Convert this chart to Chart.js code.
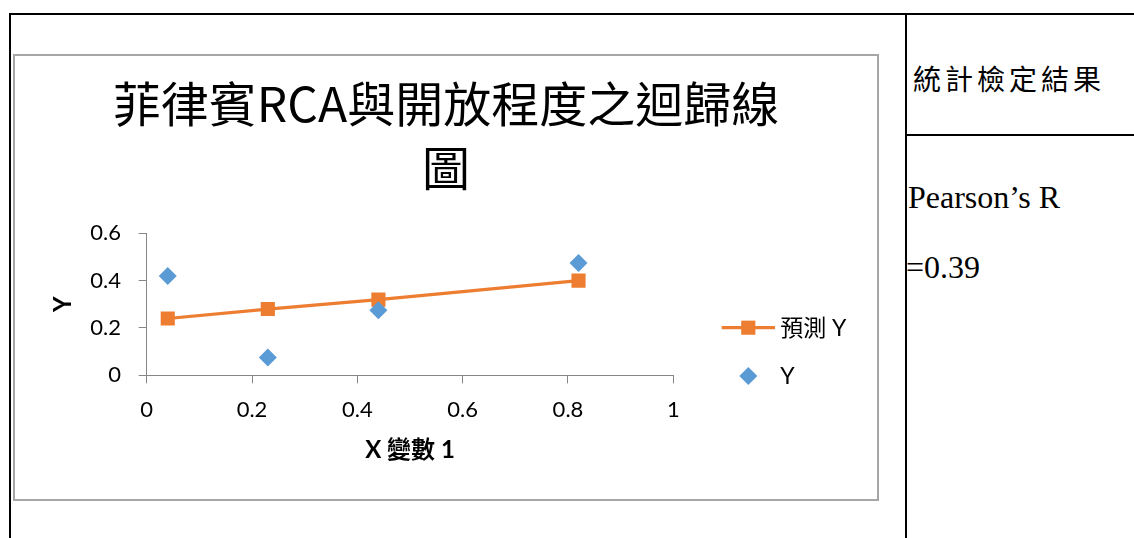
<!DOCTYPE html>
<html lang="zh-Hant">
<head>
<meta charset="utf-8">
<title>菲律賓RCA與開放程度之迴歸線圖</title>
<script src="https://cdn.jsdelivr.net/npm/chart.js@4.4.1/dist/chart.umd.min.js"></script>
<style>
  html, body { margin: 0; padding: 0; background: #fff; }
  body { width: 1134px; height: 538px; position: relative; overflow: hidden; }
  .rule { position: absolute; background: #000; }
  #chartBox {
    position: absolute; left: 13px; top: 54px;
    width: 862px; height: 443px;
    border: 2px solid #a6a6a6; background: #fff;
  }
  #chartBox canvas { display: block; }
  .cell { position: absolute; color: #000; white-space: nowrap; }
  #statHead {
    left: 913px; top: 64px;
    font: 400 28px/28px "Noto Sans CJK TC", sans-serif;
    letter-spacing: 4px;
  }
  .serif { font: 32px/32px "Liberation Serif", "Times New Roman", serif; }
  #pearson { left: 908px; top: 181px; }
  #rValue { left: 906px; top: 251px; }
</style>
</head>
<body>
  <div class="rule" style="left:9px;top:13px;width:1125px;height:2px"></div>
  <div class="rule" style="left:9px;top:13px;width:2px;height:525px"></div>
  <div class="rule" style="left:905px;top:13px;width:2px;height:525px"></div>
  <div class="rule" style="left:905px;top:134px;width:229px;height:2px"></div>

  <div id="chartBox"><canvas id="chart" width="862" height="443"></canvas></div>

  <div class="cell" id="statHead">統計檢定結果</div>
  <div class="cell serif" id="pearson">Pearson’s R</div>
  <div class="cell serif" id="rValue">=0.39</div>

<script>
// X values and the two series
const xValues = [0.04, 0.23, 0.44, 0.82];
const yObserved = [0.42, 0.075, 0.275, 0.475];
const yPredicted = [0.24, 0.28, 0.32, 0.40];

const xTicks = [0, 0.2, 0.4, 0.6, 0.8, 1];
const yTicks = [0, 0.2, 0.4, 0.6];

const titleLines = ['菲律賓RCA與開放程度之迴歸線', '圖'];
const seriesNames = ['預測 Y', 'Y'];
const xTitle = 'X 變數 1';
const yTitle = 'Y';

const ORANGE = '#ED7D31';
const BLUE = '#5B9BD5';
const AXIS = '#868686';
const FONT = 'Lato, "Noto Sans CJK TC", sans-serif';

// legend on the right, drawn next to the plot area
const sideLegend = {
  id: 'sideLegend',
  afterDraw(chart) {
    const { ctx, chartArea } = chart;
    const x0 = chartArea.right + 48.4;
    const rows = [chartArea.bottom - 47.6, chartArea.bottom + 0.7];
    chart.data.datasets.forEach((ds, i) => {
      const y = rows[i];
      const cx = x0 + 26.6;
      ctx.save();
      ctx.fillStyle = ds.backgroundColor;
      if (ds.showLine) {
        ctx.strokeStyle = ds.borderColor;
        ctx.lineWidth = ds.borderWidth;
        ctx.beginPath();
        ctx.moveTo(x0, y);
        ctx.lineTo(x0 + 53.3, y);
        ctx.stroke();
      }
      const r = ds.pointRadius;
      ctx.beginPath();
      if (ds.pointStyle === 'rect') {
        const s = r * Math.SQRT1_2;
        ctx.rect(cx - s, y - s, s * 2, s * 2);
      } else {
        ctx.moveTo(cx - r, y);
        ctx.lineTo(cx, y - r);
        ctx.lineTo(cx + r, y);
        ctx.lineTo(cx, y + r);
        ctx.closePath();
      }
      ctx.fill();
      ctx.fillStyle = '#000';
      ctx.font = '23px ' + FONT;
      ctx.textBaseline = 'middle';
      ctx.textAlign = 'left';
      ctx.fillText(ds.label, x0 + 58.5, y + 1);
      ctx.restore();
    });
  }
};

const fmt = v => String(+v.toFixed(1));

new Chart(document.getElementById('chart'), {
  type: 'scatter',
  data: {
    datasets: [
      {
        label: seriesNames[0],
        data: xValues.map((x, i) => ({ x, y: yPredicted[i] })),
        showLine: true,
        borderColor: ORANGE,
        backgroundColor: ORANGE,
        borderWidth: 3.2,
        pointStyle: 'rect',
        pointRadius: 10,
        pointBorderWidth: 0,
        order: 1
      },
      {
        label: seriesNames[1],
        data: xValues.map((x, i) => ({ x, y: yObserved[i] })),
        borderColor: BLUE,
        backgroundColor: BLUE,
        pointStyle: 'rectRot',
        pointRadius: 9,
        pointBorderWidth: 0,
        order: 0
      }
    ]
  },
  options: {
    responsive: false,
    animation: false,
    devicePixelRatio: 1,
    layout: { padding: 0 },
    plugins: {
      legend: { display: false },
      tooltip: { enabled: false },
      title: {
        display: true,
        text: titleLines,
        color: '#000',
        font: { family: '"Noto Sans CJK TC", sans-serif', size: 48, weight: 'normal', lineHeight: 64 / 48 },
        padding: { top: 16, bottom: 33.3 }
      }
    },
    scales: {
      x: {
        type: 'linear',
        min: 0, max: 1,
        afterBuildTicks: s => { s.ticks = xTicks.map(v => ({ value: v })); },
        afterFit: s => { s.height = 123.7; },
        ticks: { color: '#000', padding: 13.5, font: { family: FONT, size: 22 }, callback: fmt },
        grid: { drawOnChartArea: false, drawTicks: true, tickLength: 8, color: AXIS },
        border: { display: true, color: AXIS, width: 1 },
        title: {
          display: true, text: xTitle, color: '#000',
          font: { family: FONT, size: 24, weight: 'bold' },
          padding: { top: 0, bottom: 34.6 }
        }
      },
      y: {
        type: 'linear',
        min: 0, max: 0.6,
        afterBuildTicks: s => { s.ticks = yTicks.map(v => ({ value: v })); },
        afterFit: s => { s.width = 131.7; },
        ticks: { color: '#000', padding: 17.7, font: { family: FONT, size: 22 }, callback: fmt },
        grid: { drawOnChartArea: false, drawTicks: true, tickLength: 8, color: AXIS },
        border: { display: true, color: AXIS, width: 1 },
        title: {
          display: true, text: yTitle, color: '#000',
          font: { family: FONT, size: 24, weight: 'bold' },
          padding: { top: 33.6, bottom: 0 }
        }
      },
      // empty axis on the right that reserves room for the legend
      legendRoom: {
        type: 'linear',
        position: 'right',
        min: 0, max: 1,
        afterFit: s => { s.width = 203.7; },
        ticks: { display: false },
        grid: { display: false },
        border: { display: false },
        title: { display: false }
      }
    }
  },
  plugins: [sideLegend]
});
</script>
</body>
</html>
